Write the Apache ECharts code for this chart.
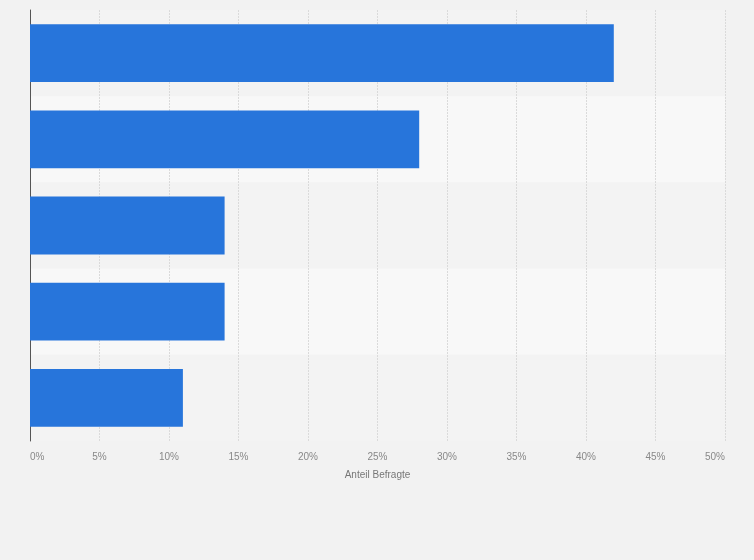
<!DOCTYPE html>
<html>
<head>
<meta charset="utf-8">
<script src="https://cdn.jsdelivr.net/npm/echarts@6/dist/echarts.min.js"></script>
<style>
html, body { margin: 0; padding: 0; background: #f2f2f2; }
#main { width: 754px; height: 560px; }
</style>
</head>
<body>
<div id="main"></div>
<script>
// Kategorien (im Original nicht beschriftet)
const categories = ['Antwort 1', 'Antwort 2', 'Antwort 3', 'Antwort 4', 'Antwort 5'];
// Anteil Befragte in %
const values = [42, 28, 14, 14, 11];
const axisTitle = 'Anteil Befragte';

let myChart = echarts.init(document.getElementById('main'));
myChart.setOption({
	backgroundColor: '#f2f2f2',
	animation: false,
	grid: { left: 30, right: 29, top: 10, bottom: 119 },
	xAxis: {
		type: 'value',
		min: 0,
		max: 50,
		interval: 5,
		name: axisTitle,
		nameLocation: 'middle',
		nameGap: 29,
		nameTextStyle: { color: '#777', fontSize: 10, fontFamily: 'Liberation Sans' },
		axisLine: { show: false },
		axisTick: { show: false },
		axisLabel: {
			formatter: '{value}%',
			color: '#888',
			fontSize: 10,
			fontFamily: 'Liberation Sans',
			margin: 11,
			alignMinLabel: 'left',
			alignMaxLabel: 'right'
		},
		splitLine: { show: true, lineStyle: { color: '#dadada', type: [2, 1], width: 1 } }
	},
	yAxis: {
		type: 'category',
		inverse: true,
		data: categories,
		axisLine: { show: true, lineStyle: { color: '#555', width: 1 } },
		axisTick: { show: false },
		axisLabel: { show: false },
		splitArea: { show: true, areaStyle: { color: ['#f3f3f3', '#f8f8f8'] } }
	},
	series: [{
		type: 'bar',
		data: values,
		barWidth: '67%',
		itemStyle: { color: '#2775db' }
	}]
});
window.addEventListener('resize', function () {
	myChart.resize();
});
</script>
</body>
</html>
